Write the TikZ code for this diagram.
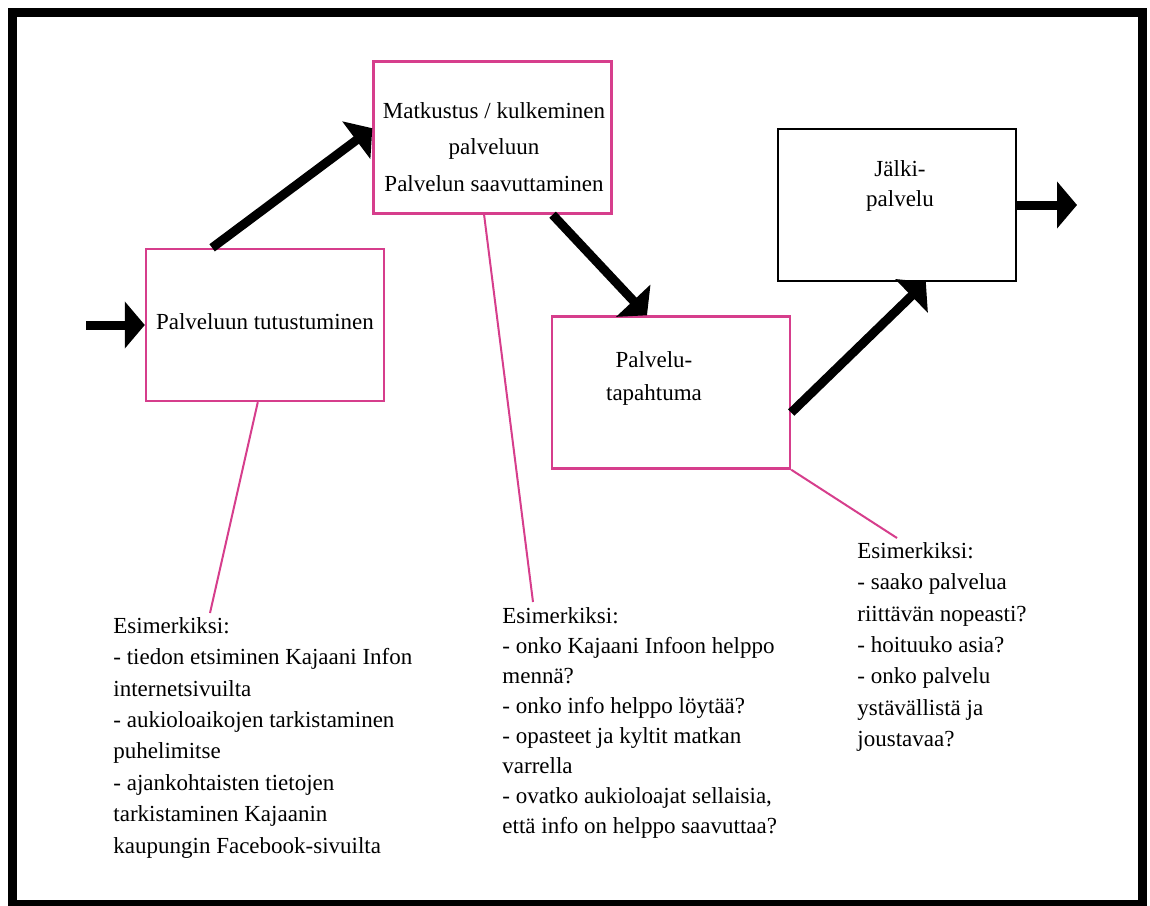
\documentclass[tikz,border=0pt]{standalone}
\usepackage{fontspec}
\setmainfont{Liberation Serif}
\usepackage{tikz}
\usetikzlibrary{arrows.meta,calc}
\definecolor{ruusu}{RGB}{214,62,140}

\begin{document}
\begin{tikzpicture}[x=0.5pt, y=-0.5pt,
            laatikko/.style = {shape=rectangle, draw=ruusu, line width=1.2pt,
                               minimum width=119pt, minimum height=76pt, inner sep=0pt},
            teksti/.style = {align=center, inner sep=0pt,
                             font=\fontsize{11.5}{16}\selectfont},
            esim/.style = {align=left, anchor=north west, inner sep=0pt,
                           font=\fontsize{11.5}{15.7}\selectfont},
            nuoli/.style = {line width=4.5pt, -{Triangle[length=10pt, width=23pt]}},
            viiva/.style = {draw=ruusu, line width=1pt}]
    \useasboundingbox (0,0) rectangle (1150,905);
    \draw[line width=4.5pt] (12,12) rectangle (1142,904);

    % vaiheet
    \node[laatikko] (tutustuminen) at (265,325) {};
    \node[laatikko] (matkustus) at (492.5,137.5) {};
    \node[laatikko] (tapahtuma) at (671,392.5) {};
    \node[laatikko, draw=black, line width=1pt] (jalki) at (897,205) {};

    \node[teksti] (t1) at (265,322) {Palveluun tutustuminen};
    \node[teksti, font=\fontsize{11.5}{18.3}\selectfont] (t2) at (494,147)
        {Matkustus / kulkeminen\\palveluun\\Palvelun saavuttaminen};
    \node[teksti, font=\fontsize{11.5}{16.5}\selectfont] (t3) at (654,378) {Palvelu-\\tapahtuma};
    \node[teksti, font=\fontsize{11.5}{15}\selectfont] (t4) at (900,186) {Jälki-\\palvelu};

    % esimerkit
    \node[esim] (esim1) at (113,617) {Esimerkiksi:\\- tiedon etsiminen Kajaani Infon\\internetsivuilta\\- aukioloaikojen tarkistaminen\\puhelimitse\\- ajankohtaisten tietojen\\tarkistaminen Kajaanin\\kaupungin Facebook-sivuilta};
    \node[esim, font=\fontsize{11.5}{15}\selectfont] (esim2) at (502,607) {Esimerkiksi:\\- onko Kajaani Infoon helppo\\mennä?\\- onko info helppo löytää?\\- opasteet ja kyltit matkan\\varrella\\- ovatko aukioloajat sellaisia,\\että info on helppo saavuttaa?};
    \node[esim] (esim3) at (857,542) {Esimerkiksi:\\- saako palvelua\\riittävän nopeasti?\\- hoituuko asia?\\- onko palvelu\\ystävällistä ja\\joustavaa?};

    \coordinate (alku) at (86,325);
    \coordinate (loppu) at (1077,205);
    \coordinate (p1) at (210,613);
    \coordinate (p2) at (533,602);
    \coordinate (p3) at (897,538);

    % nuolet
    \draw[nuoli] (alku) -- (tutustuminen.west);
    \draw[nuoli] ($(tutustuminen.north west)!0.28!(tutustuminen.north east)$) -- ($(matkustus.north west)!0.44!(matkustus.south west)$);
    \draw[nuoli] ($(matkustus.south west)!0.75!(matkustus.south east)$) -- ($(tapahtuma.north west)!0.40!(tapahtuma.north east)$);
    \draw[nuoli] ($(tapahtuma.north east)!0.63!(tapahtuma.south east)$) -- ($(jalki.south west)!0.62!(jalki.south east)$);
    \draw[nuoli] (jalki.east) -- (loppu);

    % viivat
    \draw[viiva] ($(tutustuminen.south west)!0.47!(tutustuminen.south east)$) -- (p1);
    \draw[viiva] ($(matkustus.south west)!0.465!(matkustus.south east)$) -- (p2);
    \draw[viiva] (tapahtuma.south east) -- (p3);
\end{tikzpicture}
\end{document}
